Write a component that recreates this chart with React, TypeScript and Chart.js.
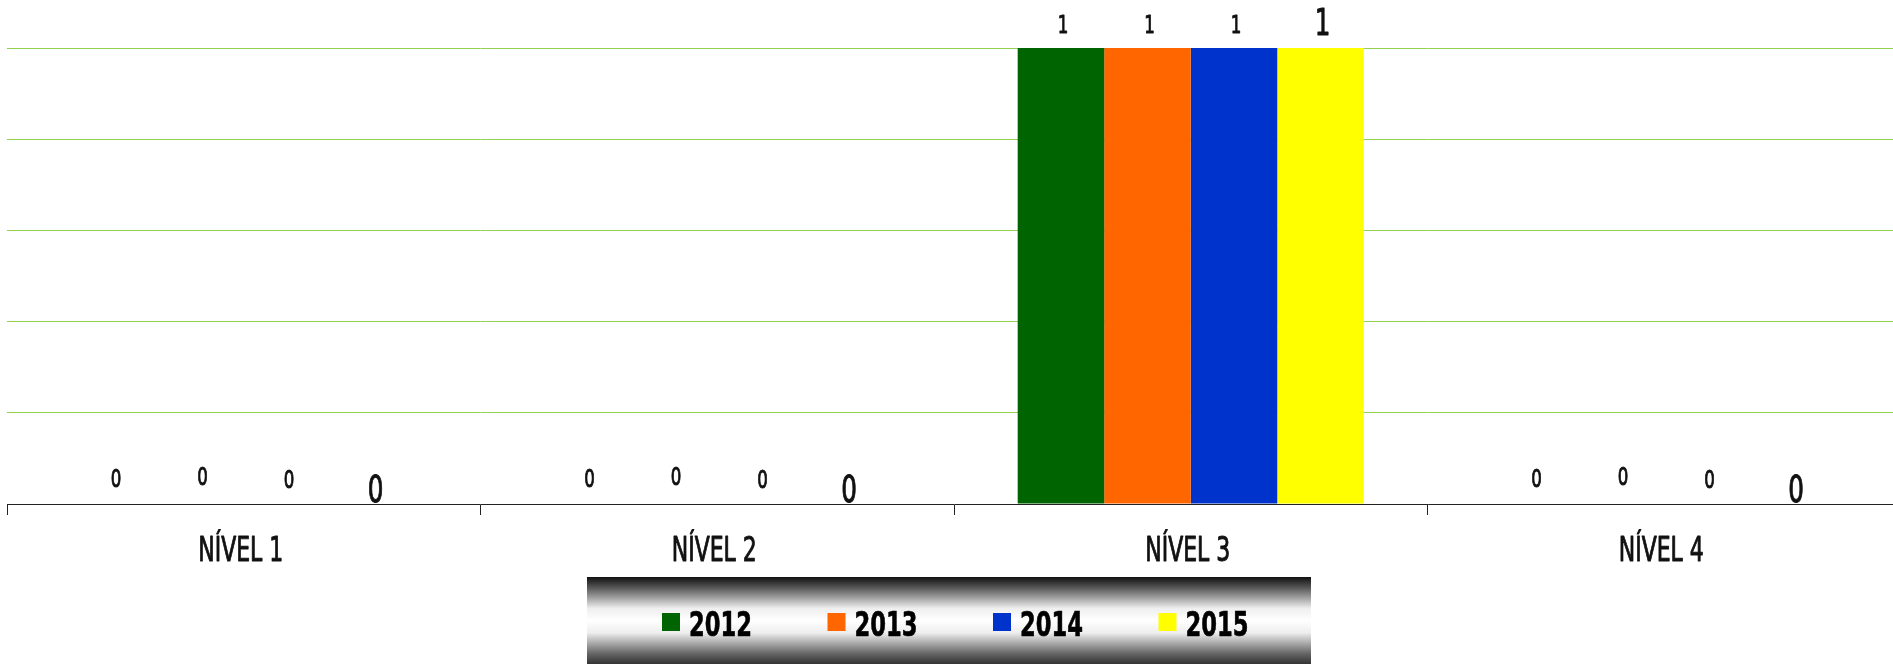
import React, { useEffect, useRef } from 'react';
import { Chart, registerables } from 'chart.js';

Chart.register(...registerables);

const categories = ['NÍVEL 1', 'NÍVEL 2', 'NÍVEL 3', 'NÍVEL 4'];
const seriesNames = ['2012', '2013', '2014', '2015'];
const values2012 = [0, 0, 1, 0];
const values2013 = [0, 0, 1, 0];
const values2014 = [0, 0, 1, 0];
const values2015 = [0, 0, 1, 0];
const yTicks = [0, 0.2, 0.4, 0.6, 0.8, 1];
const seriesColors = ['#006400', '#FF6600', '#0033CC', '#FFFF00'];

const FONT = '"Liberation Sans Narrow", "DejaVu Sans Condensed", "Arial Narrow", sans-serif';
const SQUEEZE = 0.74;

const labelStyles = [
  { size: 25, gap: 15, zeroGap: 17 },
  { size: 25, gap: 15, zeroGap: 19 },
  { size: 25, gap: 15, zeroGap: 16 },
  { size: 37, gap: 13, zeroGap: 2 },
];

function drawSqueezed(
  ctx: CanvasRenderingContext2D,
  text: string,
  x: number,
  y: number,
  font: string,
  align: CanvasTextAlign,
  color: string,
  stroke: number,
) {
  ctx.save();
  ctx.translate(x, y);
  ctx.scale(SQUEEZE, 1);
  ctx.font = font;
  ctx.fillStyle = color;
  ctx.textAlign = align;
  ctx.textBaseline = 'alphabetic';
  ctx.fillText(text, 0, 0);
  if (stroke > 0) {
    ctx.strokeStyle = color;
    ctx.lineWidth = stroke;
    ctx.lineJoin = 'round';
    ctx.strokeText(text, 0, 0);
  }
  ctx.restore();
}

const valueLabelPlugin = {
  id: 'valueLabels',
  afterDatasetsDraw(chart: any) {
    const ctx = chart.ctx;
    chart.data.datasets.forEach((ds: any, i: number) => {
      const meta = chart.getDatasetMeta(i);
      const st = labelStyles[i];
      meta.data.forEach((el: any, j: number) => {
        const v = ds.data[j];
        const off = v === 0 ? st.zeroGap : st.gap;
        drawSqueezed(ctx, String(v), el.x + 2, el.y - off, `${st.size}px ${FONT}`, 'center', '#111111', 0.9);
      });
    });
  },
};

const categoryLabelPlugin = {
  id: 'categoryLabels',
  afterDraw(chart: any) {
    const ctx = chart.ctx;
    const xs = chart.scales.x;
    chart.data.labels.forEach((lab: string, i: number) => {
      const x = xs.getPixelForTick(i);
      drawSqueezed(ctx, lab, x - 3, xs.top + 57, `33px ${FONT}`, 'center', '#111111', 0.9);
    });
  },
};

const legendPlugin = {
  id: 'gradientLegend',
  afterDraw(chart: any) {
    const ctx = chart.ctx;
    const bx = 587;
    const by = 577;
    const bw = 724;
    const bh = 87;
    ctx.save();
    const g = ctx.createLinearGradient(0, by, 0, by + bh);
    g.addColorStop(0, '#111111');
    g.addColorStop(0.12, '#555555');
    g.addColorStop(0.36, '#eeeeee');
    g.addColorStop(0.5, '#ffffff');
    g.addColorStop(0.64, '#eeeeee');
    g.addColorStop(0.88, '#666666');
    g.addColorStop(1, '#333333');
    ctx.fillStyle = g;
    ctx.fillRect(bx, by, bw, bh);
    ctx.restore();
    const cy = 622;
    chart.data.datasets.forEach((ds: any, i: number) => {
      const x = 662 + i * 165.5;
      ctx.save();
      ctx.fillStyle = ds.backgroundColor;
      ctx.fillRect(x, cy - 9, 18, 18);
      ctx.restore();
      drawSqueezed(ctx, ds.label, x + 27, 636, `bold 34px ${FONT}`, 'left', '#000000', 0.6);
    });
  },
};

export default function App() {
  const ref = useRef<HTMLCanvasElement | null>(null);
  useEffect(() => {
    if (!ref.current) return;
    const allValues = [values2012, values2013, values2014, values2015];
    const chart = new Chart(ref.current, {
      type: 'bar',
      data: {
        labels: categories,
        datasets: seriesNames.map((name, i) => ({
          label: name,
          data: allValues[i],
          backgroundColor: seriesColors[i],
          borderWidth: 0,
          categoryPercentage: 0.731,
          barPercentage: 1.0,
        })),
      },
      options: {
        animation: false,
        responsive: false,
        devicePixelRatio: 1,
        layout: { padding: { left: 7, top: 48, right: 0, bottom: 60 } },
        plugins: {
          legend: { display: false },
          tooltip: { enabled: false },
        },
        scales: {
          x: {
            type: 'category',
            offset: true,
            grid: {
              offset: true,
              drawOnChartArea: false,
              drawTicks: true,
              tickLength: 11,
              color: '#222222',
              lineWidth: 1,
            },
            border: { display: true, color: '#222222', width: 1 },
            ticks: {
              display: false,
              autoSkip: false,
            },
            afterFit: (s: any) => {
              s.height = 100;
            },
          },
          y: {
            min: 0,
            max: 1,
            afterBuildTicks: (s: any) => {
              s.ticks = yTicks.map((v) => ({ value: v }));
            },
            grid: {
              drawTicks: false,
              color: (c: any) => (c.tick && c.tick.value === 0 ? 'rgba(0,0,0,0)' : '#92D050'),
              lineWidth: 1,
            },
            border: { display: false },
            ticks: { display: false },
          },
        },
      },
      plugins: [valueLabelPlugin, categoryLabelPlugin, legendPlugin],
    } as any);
    return () => chart.destroy();
  }, []);
  return (
    <div
      style={{
        position: 'fixed',
        left: 0,
        top: 0,
        width: 1893,
        height: 664,
        overflow: 'hidden',
        background: '#ffffff',
      }}
    >
      <canvas ref={ref} width={1901} height={664} style={{ width: 1901, height: 664, display: 'block' }} />
    </div>
  );
}
